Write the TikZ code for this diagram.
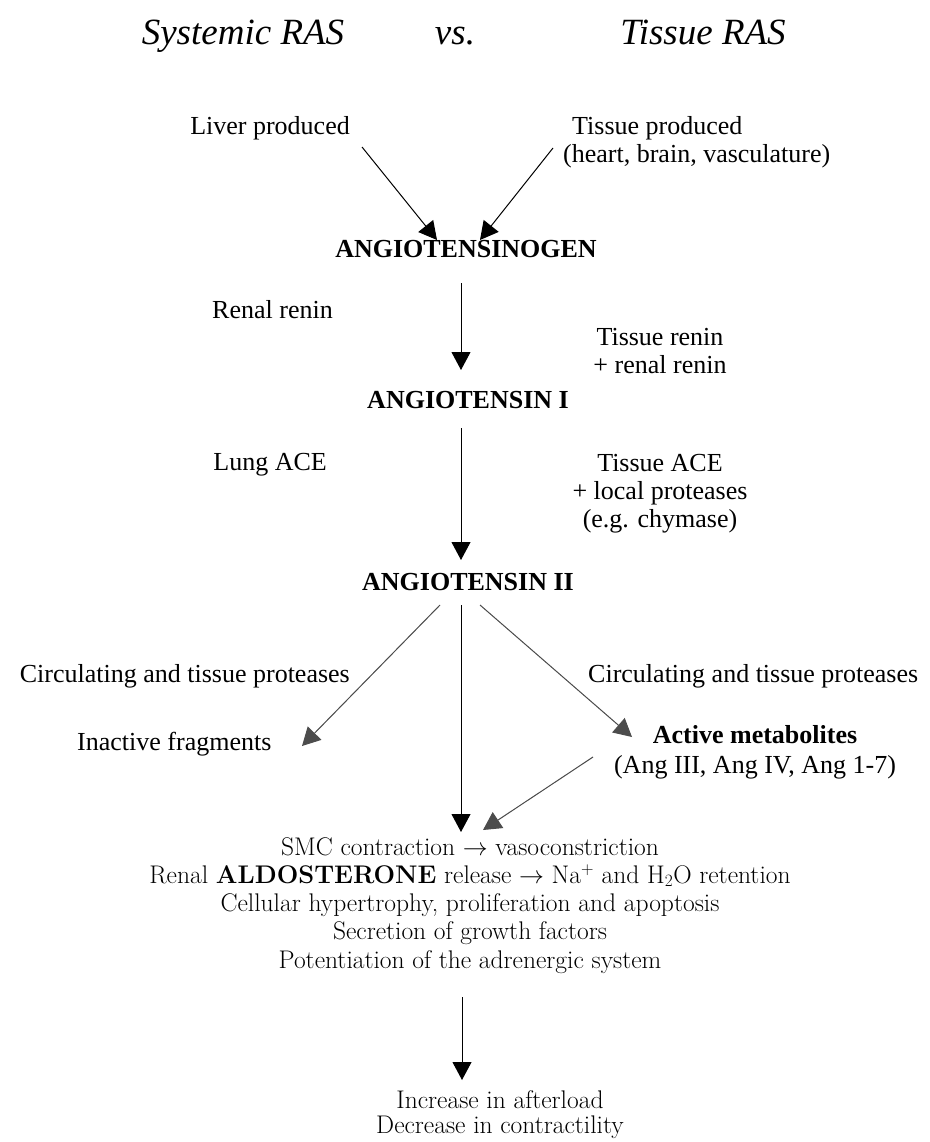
\documentclass[tikz,border=0pt]{standalone}
\usepackage{fontspec}
\newfontfamily\tnr{Liberation Serif}
\usetikzlibrary{arrows.meta}

\begin{document}
\begin{tikzpicture}
		[x=1pt,y=-1pt,
		hdr/.style={font=\tnr\itshape\fontsize{37}{40}\selectfont, anchor=base, inner sep=0},
		lbl/.style={font=\tnr\fontsize{26}{28}\selectfont, anchor=base, inner sep=0},
		stage/.style={font=\tnr\bfseries\fontsize{26}{28}\selectfont, anchor=base, inner sep=0},
		eff/.style={font=\fontsize{25.5}{28}\selectfont, anchor=base, inner sep=0},
		flow/.style={-{Triangle[length=18pt,width=19pt]}, line width=1pt},
		side/.style={flow, draw=black!70, fill=black!70}]
		\useasboundingbox (0,0) rectangle (929,1142);
		% titles
		\node[hdr] (sys) at (243,45) {Systemic RAS};
		\node[hdr] (vs) at (455,45) {vs.};
		\node[hdr] (tisras) at (703,45) {Tissue RAS};
		% sources
		\node[lbl, anchor=base east] (liver) at (350,135) {Liver produced};
		\node[lbl, anchor=base west] (tisprod) at (572,135) {Tissue produced};
		\node[lbl, anchor=base west] (tisorg) at (563,163) {(heart, brain, vasculature)};
		% main chain
		\node[stage] (agen) at (466,257) {ANGIOTENSINOGEN};
		\node[stage] (ang1) at (468,408) {ANGIOTENSIN I};
		\node[stage] (ang2) at (468,590) {ANGIOTENSIN II};
		% enzymes
		\node[lbl, anchor=base east] (renin) at (333,318) {Renal renin};
		\node[lbl] (trenin) at (660,345) {Tissue renin};
		\node[lbl] (trenin2) at (660,373) {+ renal renin};
		\node[lbl, anchor=base east] (lace) at (327,470) {Lung ACE};
		\node[lbl] (tace) at (660,471) {Tissue ACE};
		\node[lbl] (tace2) at (660,499) {+ local proteases};
		\node[lbl] (tace3) at (660,527) {(e.g. chymase)};
		% breakdown
		\node[lbl, anchor=base east] (protl) at (350,682) {Circulating and tissue proteases};
		\node[lbl, anchor=base west] (protr) at (588,682) {Circulating and tissue proteases};
		\node[lbl, anchor=base west] (inact) at (77,750) {Inactive fragments};
		\node[stage] (act) at (755,743) {Active metabolites};
		\node[lbl] (actlist) at (755,773) {(Ang III, Ang IV, Ang 1-7)};
		% effects
		\foreach \txt [count=\i] in {{SMC contraction $\rightarrow$ vasoconstriction},
			{Renal \textbf{ALDOSTERONE} release $\rightarrow$ Na$^{+}$ and H$_{2}$O retention},
			{Cellular hypertrophy, proliferation and apoptosis},
			{Secretion of growth factors},
			{Potentiation of the adrenergic system}}
		\node[eff] (eff\i) at (470,826.75+28.25*\i) {\txt};
		\node[eff] (out1) at (500,1108) {Increase in afterload};
		\node[eff] (out2) at (500,1133) {Decrease in contractility};
		% arrow ends
		\coordinate (liverend) at (362,147);
		\coordinate (tisend) at (553,148);
		\coordinate (agentipl) at (437,240);
		\coordinate (agentipr) at (480,240);
		\coordinate (a1top) at (461,283);
		\coordinate (a1tip) at (461,370);
		\coordinate (a2top) at (461,428);
		\coordinate (a2tip) at (461,560);
		\coordinate (a3top) at (461,605);
		\coordinate (a3tip) at (461,832);
		\coordinate (lefttop) at (440,605);
		\coordinate (lefttip) at (302,746);
		\coordinate (righttop) at (480,605);
		\coordinate (righttip) at (632,737);
		\coordinate (metatop) at (593,757);
		\coordinate (metatip) at (483,830);
		\coordinate (outtop) at (462,997);
		\coordinate (outtip) at (462,1080);
		\draw[flow] (liverend) -- (agentipl);
		\draw[flow] (tisend) -- (agentipr);
		\draw[flow] (a1top) -- (a1tip);
		\draw[flow] (a2top) -- (a2tip);
		\draw[flow] (a3top) -- (a3tip);
		\draw[side] (lefttop) -- (lefttip);
		\draw[side] (righttop) -- (righttip);
		\draw[side] (metatop) -- (metatip);
		\draw[flow] (outtop) -- (outtip);
	\end{tikzpicture}
\end{document}
